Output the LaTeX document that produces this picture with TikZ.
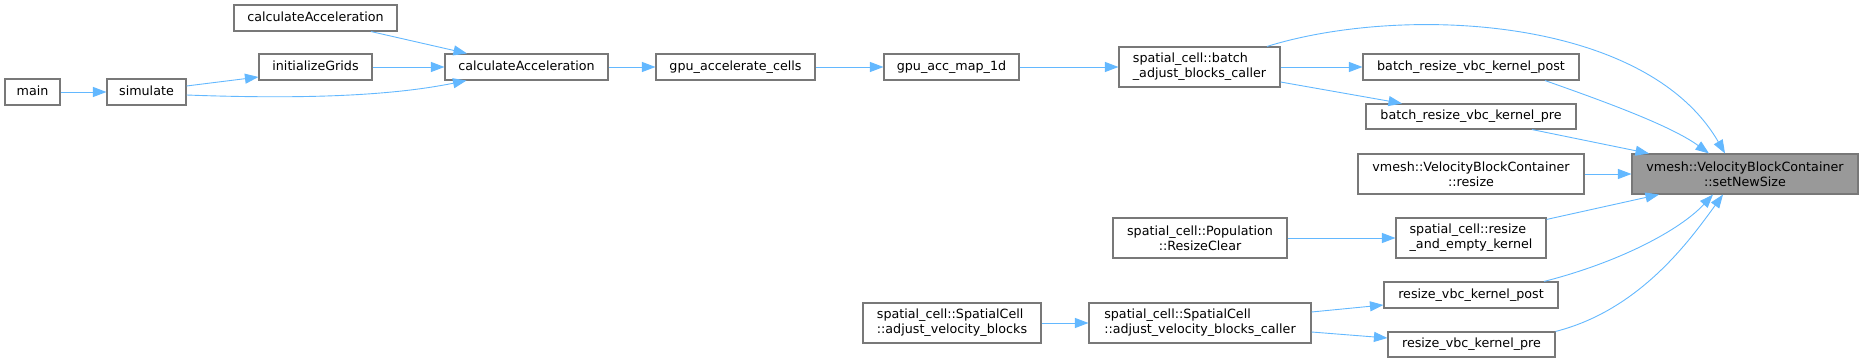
\documentclass[tikz,border=0pt]{standalone}
\usepackage{fontspec}
\setmainfont{DejaVu Sans}
\usetikzlibrary{arrows.meta,positioning,calc}
\definecolor{edgeblue}{RGB}{99,184,255}
\definecolor{boxgray}{RGB}{120,120,120}
\definecolor{selgray}{RGB}{153,153,153}

\begin{document}
\begin{tikzpicture}[
    x=1pt, y=-1pt,
    box/.style={rectangle, draw=boxgray, line width=1.1pt, fill=white, inner sep=0pt, font=\fontsize{12.7}{15}\selectfont},
    fn/.style={box, minimum height=26pt, text height=9.5pt, text depth=2.6pt},
    fn2/.style={box, minimum height=40pt, align=center},
    fnl/.style={fn2, align=left},
    sel/.style={fn2, fill=selgray},
    call/.style={draw=edgeblue, line width=0.9pt, -{Triangle[length=13.5pt,width=10pt]}}
]
    \useasboundingbox (0,0) rectangle (1863,363);

    % Callers on the left
    \node[fn, minimum width=55pt] (main) at (32.5,92) {main};
    \node[fn, minimum width=79pt] (simulate) at (146.5,92) {simulate};
    \node[fn, minimum width=163pt] (calcTop) at (315.5,18) {calculateAcceleration};
    \node[fn, minimum width=113pt] (initGrids) at (315.5,67) {initializeGrids};
    \node[fn, minimum width=163pt] (calcAcc) at (526.5,67) {calculateAcceleration};
    \node[fn, minimum width=159pt] (gpuCells) at (735.5,67) {gpu\_accelerate\_cells};
    \node[fn, minimum width=135pt] (gpuMap) at (951.5,67) {gpu\_acc\_map\_1d};
    \node[fnl, minimum width=161pt] (batchCaller) at (1199.5,67) {spatial\_cell::batch\\\_adjust\_blocks\_caller};
    \node[fn2, minimum width=174pt] (popClear) at (1200,238) {spatial\_cell::Population\\::ResizeClear};
    \node[fnl, minimum width=178pt] (adjBlocks) at (952,323) {spatial\_cell::SpatialCell\\::adjust\_velocity\_blocks};
    \node[fnl, minimum width=222pt] (adjCaller) at (1200,323) {spatial\_cell::SpatialCell\\::adjust\_velocity\_blocks\_caller};

    % Kernels
    \node[fn, minimum width=216pt] (batchPost) at (1471,67) {batch\_resize\_vbc\_kernel\_post};
    \node[fn, minimum width=210pt, minimum height=25pt] (batchPre) at (1471,116.5) {batch\_resize\_vbc\_kernel\_pre};
    \node[fn2, minimum width=226pt] (vbcResize) at (1471,174) {vmesh::VelocityBlockContainer\\::resize};
    \node[fnl, minimum width=150pt] (resizeEmpty) at (1471,238) {spatial\_cell::resize\\\_and\_empty\_kernel};
    \node[fn, minimum width=174pt] (resizePost) at (1471,295) {resize\_vbc\_kernel\_post};
    \node[fn, minimum width=167pt, minimum height=25pt] (resizePre) at (1471.5,344.5) {resize\_vbc\_kernel\_pre};

    % Function of interest
    \node[sel, minimum width=226pt] (setSize) at (1745,174) {vmesh::VelocityBlockContainer\\::setNewSize};

    % Edges
    \draw[call] (main) -- (simulate);
    \draw[call] ([yshift=6pt]simulate.east) -- ([yshift=-10pt]initGrids.west);
    \draw[call] ([yshift=-3pt]simulate.east) .. controls (320,100) and (400,94) .. ([xshift=-60pt]calcAcc.south);
    \draw[call] ([xshift=55.5pt]calcTop.south) -- ([xshift=-59.5pt]calcAcc.north);
    \draw[call] (initGrids) -- (calcAcc);
    \draw[call] (calcAcc) -- (gpuCells);
    \draw[call] (gpuCells) -- (gpuMap);
    \draw[call] (gpuMap) -- (batchCaller);
    \draw[call] ([xshift=67.5pt]batchCaller.north) .. controls (1400,5) and (1645,15) .. ([xshift=-20pt]setSize.north);
    \draw[call] (batchCaller) -- (batchPost);
    \draw[call] ([yshift=-15pt]batchCaller.east) -- ([xshift=-69pt]batchPre.north);
    \draw[call] ([xshift=74pt]batchPost.south) .. controls (1600,100) and (1670,125) .. ([xshift=-36pt]setSize.north);
    \draw[call] ([xshift=61pt]batchPre.south) -- ([xshift=-96pt]setSize.north);
    \draw[call] (vbcResize) -- (setSize);
    \draw[call] (popClear) -- (resizeEmpty);
    \draw[call] ([yshift=-2pt]resizeEmpty.north east) -- ([xshift=-86pt]setSize.south);
    \draw[call] ([xshift=73pt]resizePost.north) .. controls (1620,262) and (1680,230) .. ([xshift=-32pt]setSize.south);
    \draw[call] (resizePre.north east) .. controls (1640,310) and (1690,240) .. ([xshift=-22pt]setSize.south);
    \draw[call] (adjBlocks) -- (adjCaller);
    \draw[call] ([yshift=11pt]adjCaller.east) -- ([yshift=-10pt]resizePost.west);
    \draw[call] ([yshift=-9pt]adjCaller.east) -- ([yshift=6.5pt]resizePre.west);
\end{tikzpicture}
\end{document}
